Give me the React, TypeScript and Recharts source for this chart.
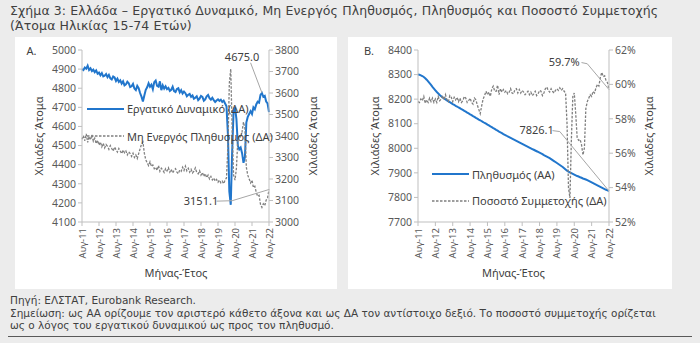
import React from 'react';
import { LineChart, Line, XAxis, YAxis, Legend, ReferenceLine, ReferenceDot } from 'recharts';

// Monthly, Aug-11 .. Aug-22 (133 points), thousands of persons aged 15-74
const MONTH_NAMES = ['Ιαν', 'Φεβ', 'Μαρ', 'Απρ', 'Μαϊ', 'Ιουν', 'Ιουλ', 'Αυγ', 'Σεπ', 'Οκτ', 'Νοε', 'Δεκ'];
const months: string[] = [];
for (let k = 0; k < 133; k++) {
  months.push(`${MONTH_NAMES[(7 + k) % 12]}-${11 + Math.floor((7 + k) / 12)}`);
}

const laborForce = [
  4900, 4895, 4908, 4902, 4918, 4895, 4904, 4890, 4897, 4884,
  4893, 4876, 4882, 4868, 4879, 4862, 4866, 4874, 4858, 4870,
  4852, 4846, 4861, 4856, 4838, 4850, 4833, 4841, 4824, 4836,
  4815, 4820, 4834, 4826, 4806, 4810, 4822, 4798, 4790, 4812,
  4800, 4775, 4756, 4730, 4762, 4792, 4805, 4826, 4808, 4818,
  4795, 4832, 4840, 4812, 4808, 4836, 4790, 4815, 4798, 4810,
  4795, 4802, 4786, 4792, 4808, 4785, 4780, 4796, 4800, 4778,
  4790, 4772, 4782, 4774, 4758, 4766, 4770, 4755, 4762, 4745,
  4750, 4758, 4738, 4746, 4760, 4755, 4735, 4742, 4758, 4765,
  4748, 4740, 4750, 4738, 4728, 4736, 4742, 4734, 4740, 4728,
  4735, 4720, 4705, 4560, 4260, 4190, 4470, 4680, 4700, 4640,
  4500, 4480, 4490, 4460, 4410, 4440, 4620, 4650, 4665, 4680,
  4665, 4700, 4690, 4715, 4730, 4725, 4765, 4775, 4755, 4760,
  4730, 4720, 4675.0,
];

const inactive = [
  3385, 3402, 3378, 3410, 3370, 3398, 3382, 3405, 3376, 3390,
  3365, 3380, 3358, 3372, 3350, 3366, 3345, 3360, 3352, 3338,
  3355, 3342, 3330, 3348, 3336, 3325, 3342, 3330, 3318, 3335,
  3322, 3330, 3312, 3326, 3318, 3305, 3320, 3300, 3312, 3295,
  3318, 3340, 3362, 3372, 3320, 3290, 3275, 3262, 3280, 3258,
  3265, 3248, 3255, 3240, 3262, 3236, 3250, 3242, 3230, 3248,
  3238, 3252, 3232, 3245, 3228, 3240, 3248, 3232, 3225, 3242,
  3236, 3255, 3240, 3260, 3238, 3250, 3232, 3245, 3228, 3236,
  3252, 3230, 3224, 3238, 3218, 3230, 3212, 3225, 3206, 3218,
  3200, 3212, 3196, 3205, 3190, 3198, 3185, 3195, 3182, 3190,
  3178, 3195, 3205, 3350, 3645, 3712, 3430, 3218, 3195, 3250,
  3385, 3405, 3392, 3420, 3465, 3435, 3255, 3218, 3200, 3182,
  3195, 3160, 3166, 3138, 3120, 3124, 3082, 3068, 3085, 3076,
  3102, 3112, 3151.1,
];

const population = [
  8300, 8299, 8297, 8294, 8290, 8285, 8279, 8272, 8265, 8258,
  8250, 8243, 8236, 8229, 8223, 8217, 8212, 8207, 8203, 8199,
  8195, 8191, 8188, 8184, 8180, 8177, 8173, 8170, 8166, 8163,
  8159, 8156, 8152, 8149, 8145, 8142, 8138, 8135, 8131, 8128,
  8124, 8121, 8117, 8114, 8110, 8107, 8103, 8100, 8096, 8093,
  8089, 8086, 8082, 8079, 8075, 8072, 8068, 8065, 8062, 8058,
  8055, 8052, 8048, 8045, 8042, 8039, 8036, 8033, 8030, 8027,
  8024, 8021, 8018, 8015, 8012, 8009, 8006, 8003, 8000, 7997,
  7994, 7991, 7988, 7985, 7982, 7979, 7976, 7972, 7969, 7966,
  7963, 7960, 7956, 7952, 7948, 7944, 7940, 7936, 7932, 7928,
  7924, 7919, 7914, 7909, 7905, 7902, 7899, 7896, 7893, 7890,
  7887, 7885, 7882, 7880, 7877, 7875, 7873, 7870, 7867, 7864,
  7861, 7858, 7855, 7852, 7849, 7846, 7843, 7840, 7837, 7834,
  7831, 7829, 7826.1,
];

// participation rate, %
const participation = [
  59.0, 58.95, 59.15, 59.05, 59.3, 58.9, 59.1, 58.95, 59.2, 59.0,
  59.2, 58.95, 59.15, 58.95, 59.3, 59.05, 59.15, 59.35, 59.1, 59.4,
  59.1, 59.0, 59.35, 59.25, 59.0, 59.25, 59.1, 59.25, 59.0, 59.2,
  58.95, 59.05, 59.3, 59.2, 58.95, 59.05, 59.2, 58.95, 58.85, 59.2,
  59.1, 58.8, 58.55, 58.3, 58.75, 59.15, 59.35, 59.6, 59.4, 59.55,
  59.3, 59.75, 59.9, 59.6, 59.6, 59.95, 59.4, 59.75, 59.55, 59.7,
  59.55, 59.65, 59.45, 59.55, 59.75, 59.5, 59.45, 59.7, 59.75, 59.5,
  59.7, 59.5, 59.65, 59.55, 59.4, 59.5, 59.6, 59.4, 59.55, 59.35,
  59.45, 59.6, 59.35, 59.45, 59.65, 59.6, 59.35, 59.5, 59.75, 59.85,
  59.65, 59.55, 59.75, 59.6, 59.5, 59.65, 59.75, 59.65, 59.8, 59.65,
  59.75, 59.6, 59.5, 57.7, 54.0, 53.4, 56.8, 59.3, 59.5, 58.3,
  56.9, 56.75, 56.8, 56.5, 55.9, 56.3, 58.6, 59.0, 59.2, 59.4,
  59.3, 59.6, 59.5, 59.8, 60.0, 59.9, 60.4, 60.7, 60.45, 60.5,
  60.2, 60.1, 59.7,
];

const laborTicks = [4100, 4200, 4300, 4400, 4500, 4600, 4700, 4800, 4900, 5000];
const inactiveTicks = [3000, 3100, 3200, 3300, 3400, 3500, 3600, 3700, 3800];
const popTicks = [7700, 7800, 7900, 8000, 8100, 8200, 8300, 8400];
const partTicks = [52, 54, 56, 58, 60, 62];

const leftData = months.map((m, i) => ({ month: m, laborForce: laborForce[i], inactive: inactive[i] }));
const rightData = months.map((m, i) => ({ month: m, population: population[i], participation: participation[i] }));
const last = months.length - 1;

const FONT = '"Noto Sans", sans-serif';
const TEXT_FONT = '"DejaVu Sans", sans-serif';
const BLUE = '#2176cc';
const GRAY = '#7f7f7f';
const AXIS = '#bfbfbf';
const TICK = '#595959';
const DARK = '#404040';
const LEADER = '#a6a6a6';
const DASH = '2.5 1.5';

const tickStyle = { fontSize: 10.5, fill: TICK, fontFamily: FONT };

const XTick = (props: any) => {
  const { x, y, payload } = props;
  return (
    <text
      x={x}
      y={y}
      transform={`rotate(-90 ${x} ${y})`}
      textAnchor="end"
      dominantBaseline="central"
      fontSize={9.5}
      fontFamily={FONT}
      fill={TICK}
    >
      {payload.value}
    </text>
  );
};

const makeLegend = (rowHeight: number) => (props: any) => (
  <div style={{ fontFamily: FONT, fontSize: 11, color: DARK }}>
    {(props.payload || []).map((entry: any) => {
      const dashed = entry.dataKey === 'inactive' || entry.dataKey === 'participation';
      return (
        <div key={entry.dataKey} style={{ display: 'flex', alignItems: 'center', height: rowHeight }}>
          <svg width={37} height={4} style={{ display: 'block' }}>
            <line x1={0} y1={2} x2={37} y2={2} stroke={entry.color} strokeWidth={dashed ? 1.3 : 2} strokeDasharray={dashed ? DASH : undefined} />
          </svg>
          <span style={{ marginLeft: 3, whiteSpace: 'nowrap' }}>{entry.value}</span>
        </div>
      );
    })}
  </div>
);

const noteLabel = (value: string) => ({ value, position: 'center' as const, fontSize: 11, fill: DARK, fontFamily: FONT });

const Rotated = ({ x, y, children }: { x: number; y: number; children: React.ReactNode }) => (
  <div
    style={{
      position: 'absolute', left: x, top: y, transform: 'translate(-50%, -50%) rotate(-90deg)',
      whiteSpace: 'nowrap', fontSize: 11, color: DARK,
    }}
  >
    {children}
  </div>
);

const Plain = ({ x, y, children }: { x: number; y: number; children: React.ReactNode }) => (
  <div style={{ position: 'absolute', left: x, top: y, transform: 'translate(-50%, -50%)', whiteSpace: 'nowrap', fontSize: 11, color: DARK }}>
    {children}
  </div>
);

const xAxisProps = {
  dataKey: 'month',
  interval: 11,
  height: 67,
  tick: <XTick />,
  tickSize: 4,
  tickMargin: 2,
  axisLine: { stroke: AXIS },
  tickLine: { stroke: AXIS },
};

const LeftPanel = () => (
  <div style={{ position: 'absolute', left: 15, top: 37, width: 322, height: 252, background: '#fff' }}>
    <LineChart width={322} height={252} data={leftData} margin={{ top: 13, right: 0, bottom: 0, left: 0 }}>
      <XAxis {...xAxisProps} />
      <YAxis yAxisId="left" width={67} domain={[4100, 5000]} ticks={laborTicks} tick={tickStyle} tickSize={4} tickMargin={2} axisLine={{ stroke: AXIS }} tickLine={{ stroke: AXIS }} />
      <YAxis yAxisId="right" orientation="right" width={68} domain={[3000, 3800]} ticks={inactiveTicks} tick={tickStyle} tickSize={4} tickMargin={2} axisLine={{ stroke: AXIS }} tickLine={{ stroke: AXIS }} />
      <Line yAxisId="left" dataKey="laborForce" name="Εργατικό Δυναμικό (ΔΑ)" stroke={BLUE} strokeWidth={2} dot={false} isAnimationActive={false} />
      <Line yAxisId="right" dataKey="inactive" name="Μη Ενεργός Πληθυσμός (ΔΑ)" stroke={GRAY} strokeWidth={1.3} strokeDasharray={DASH} dot={false} isAnimationActive={false} />
      <ReferenceLine yAxisId="left" segment={[{ x: months[119], y: 4933 }, { x: months[127], y: 4776 }]} stroke={LEADER} strokeWidth={1} />
      <ReferenceDot yAxisId="left" x={months[113]} y={4965} r={0} stroke="none" label={noteLabel(laborForce[last].toFixed(1))} />
      <ReferenceLine yAxisId="right" segment={[{ x: months[95], y: 3097 }, { x: months[106], y: 3099 }]} stroke={LEADER} strokeWidth={1} />
      <ReferenceLine yAxisId="right" segment={[{ x: months[106], y: 3099 }, { x: months[last], y: inactive[last] }]} stroke={LEADER} strokeWidth={1} />
      <ReferenceDot yAxisId="right" x={months[84]} y={3099} r={0} stroke="none" label={noteLabel(inactive[last].toFixed(1))} />
      <Legend layout="vertical" align="center" verticalAlign="middle" content={makeLegend(27.4)} wrapperStyle={{ left: 72, top: 58 }} />
    </LineChart>
    <Plain x={16.5} y={13}>A.</Plain>
    <Rotated x={23} y={99}>Χιλιάδες Άτομα</Rotated>
    <Rotated x={297} y={99}>Χιλιάδες Άτομα</Rotated>
    <Plain x={161} y={235}>Μήνας-Έτος</Plain>
  </div>
);

const RightPanel = () => (
  <div style={{ position: 'absolute', left: 348, top: 37, width: 324, height: 252, background: '#fff' }}>
    <LineChart width={324} height={252} data={rightData} margin={{ top: 13, right: 0, bottom: 0, left: 0 }}>
      <XAxis {...xAxisProps} />
      <YAxis yAxisId="left" width={70} domain={[7700, 8400]} ticks={popTicks} tick={tickStyle} tickSize={4} tickMargin={2} axisLine={{ stroke: AXIS }} tickLine={{ stroke: AXIS }} />
      <YAxis yAxisId="right" orientation="right" width={63} domain={[52, 62]} ticks={partTicks} tickFormatter={(v: number) => `${v}%`} tick={tickStyle} tickSize={4} tickMargin={2} axisLine={{ stroke: AXIS }} tickLine={{ stroke: AXIS }} />
      <Line yAxisId="left" dataKey="population" name="Πληθυσμός (ΑΑ)" stroke={BLUE} strokeWidth={2} dot={false} isAnimationActive={false} />
      <Line yAxisId="right" dataKey="participation" name="Ποσοστό Συμμετοχής (ΔΑ)" stroke={GRAY} strokeWidth={1.3} strokeDasharray={DASH} dot={false} isAnimationActive={false} />
      <ReferenceLine yAxisId="right" segment={[{ x: months[113], y: 61.27 }, { x: months[117], y: 61.2 }]} stroke={LEADER} strokeWidth={1} />
      <ReferenceLine yAxisId="right" segment={[{ x: months[117], y: 61.2 }, { x: months[last], y: participation[last] }]} stroke={LEADER} strokeWidth={1} />
      <ReferenceDot yAxisId="right" x={months[101]} y={61.27} r={0} stroke="none" label={noteLabel(`${participation[last].toFixed(1)}%`)} />
      <ReferenceLine yAxisId="left" segment={[{ x: months[93], y: 8072 }, { x: months[98], y: 8068 }]} stroke={LEADER} strokeWidth={1} />
      <ReferenceLine yAxisId="left" segment={[{ x: months[98], y: 8068 }, { x: months[last], y: population[last] }]} stroke={LEADER} strokeWidth={1} />
      <ReferenceDot yAxisId="left" x={months[82]} y={8074} r={0} stroke="none" label={noteLabel(population[last].toFixed(1))} />
      <Legend layout="vertical" align="center" verticalAlign="middle" content={makeLegend(26.4)} wrapperStyle={{ left: 84, top: 124 }} />
    </LineChart>
    <Plain x={21} y={13}>Β.</Plain>
    <Rotated x={26} y={99}>Χιλιάδες Άτομα</Rotated>
    <Rotated x={300} y={99}>Χιλιάδες Άτομα</Rotated>
    <Plain x={165.5} y={235}>Μήνας-Έτος</Plain>
  </div>
);

export default function App() {
  return (
    <div style={{ position: 'absolute', left: 0, top: 0, width: 700, height: 343, background: '#ececec', fontFamily: FONT, overflow: 'hidden' }}>
      <div style={{ position: 'absolute', left: 10, top: 3, fontFamily: TEXT_FONT, fontSize: 12.5, lineHeight: '15px', letterSpacing: 0.1, color: DARK, whiteSpace: 'nowrap' }}>
        <div>Σχήμα 3: Ελλάδα – Εργατικό Δυναμικό, Μη Ενεργός Πληθυσμός, Πληθυσμός και Ποσοστό Συμμετοχής</div>
        <div>(Άτομα Ηλικίας 15-74 Ετών)</div>
      </div>
      <LeftPanel />
      <RightPanel />
      <div style={{ position: 'absolute', left: 10, top: 294, fontFamily: TEXT_FONT, fontSize: 10.5, lineHeight: '12.5px', color: DARK, whiteSpace: 'nowrap' }}>
        <div>Πηγή: ΕΛΣΤΑΤ, Eurobank Research.</div>
        <div>Σημείωση: ως ΑΑ ορίζουμε τον αριστερό κάθετο άξονα και ως ΔΑ τον αντίστοιχο δεξιό. Το ποσοστό συμμετοχής ορίζεται</div>
        <div>ως ο λόγος του εργατικού δυναμικού ως προς τον πληθυσμό.</div>
      </div>
      <div style={{ position: 'absolute', left: 8, top: 336, width: 684, height: 1, background: '#595959' }} />
    </div>
  );
}
